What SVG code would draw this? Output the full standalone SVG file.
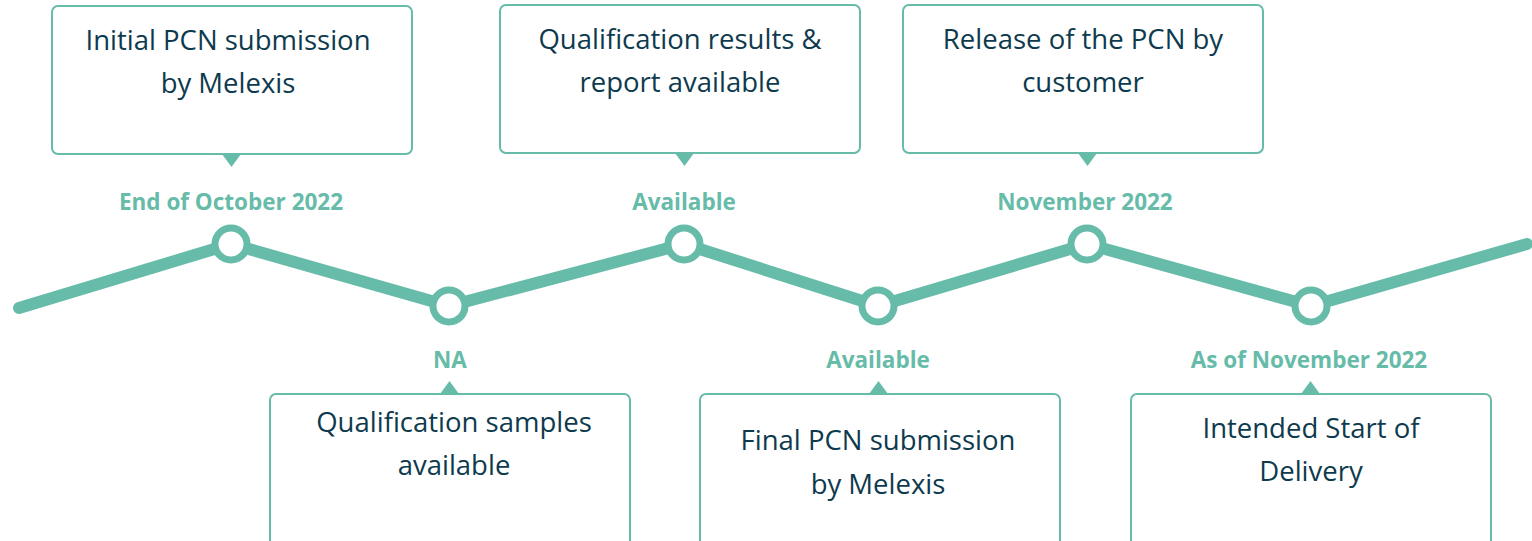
<svg xmlns="http://www.w3.org/2000/svg" width="1532" height="541" viewBox="0 0 1532 541">
<style>
.box{fill:#fff;stroke:#66bba9;stroke-width:2}
.ptr{fill:#66bba9}
.txt{font-family:"Open Sans","Liberation Sans",sans-serif;font-size:27.5px;fill:#0e3a4e;text-anchor:middle}
.lbl{font-family:"Open Sans","Liberation Sans",sans-serif;font-size:22.5px;font-weight:bold;fill:#66bba9;text-anchor:middle}
.dot{fill:#fff;stroke:#66bba9;stroke-width:7}
</style>
<rect width="1532" height="541" fill="#fff"/>
<g id="connectors">
<polyline points="19,308 231,244 449,306 684,244 878,306 1087,244 1311,306 1527,244" fill="none" stroke="#66bba9" stroke-width="12" stroke-linecap="round" stroke-linejoin="round"/>
</g>
<g id="m1">
<rect class="box" x="52" y="6" width="360" height="148" rx="6"/>
<polygon class="ptr" points="222,154 241,154 231.5,167"/>
<text class="txt" x="228" y="50">Initial PCN submission</text>
<text class="txt" x="228" y="93">by Melexis</text>
<text class="lbl" x="231" y="210">End of October 2022</text>
<circle class="dot" cx="231" cy="244" r="16"/>
</g>
<g id="m2">
<rect class="box" x="270" y="394" width="360" height="160" rx="6"/>
<polygon class="ptr" points="440,394 459,394 449.5,381"/>
<text class="txt" x="454" y="432">Qualification samples</text>
<text class="txt" x="454" y="475">available</text>
<text class="lbl" x="450" y="368">NA</text>
<circle class="dot" cx="449" cy="306" r="16"/>
</g>
<g id="m3">
<rect class="box" x="500" y="5" width="360" height="148" rx="6"/>
<polygon class="ptr" points="675,153 694,153 684.5,166"/>
<text class="txt" x="680" y="49">Qualification results &amp;</text>
<text class="txt" x="680" y="92">report available</text>
<text class="lbl" x="684" y="210">Available</text>
<circle class="dot" cx="684" cy="244" r="16"/>
</g>
<g id="m4">
<rect class="box" x="700" y="394" width="360" height="160" rx="6"/>
<polygon class="ptr" points="869,394 888,394 878.5,381"/>
<text class="txt" x="878" y="450">Final PCN submission</text>
<text class="txt" x="878" y="494">by Melexis</text>
<text class="lbl" x="878" y="368">Available</text>
<circle class="dot" cx="878" cy="306" r="16"/>
</g>
<g id="m5">
<rect class="box" x="903" y="5" width="360" height="148" rx="6"/>
<polygon class="ptr" points="1078,153 1097,153 1087.5,166"/>
<text class="txt" x="1083" y="49">Release of the PCN by</text>
<text class="txt" x="1083" y="92">customer</text>
<text class="lbl" x="1085" y="210">November 2022</text>
<circle class="dot" cx="1087" cy="244" r="16"/>
</g>
<g id="m6">
<rect class="box" x="1131" y="394" width="360" height="160" rx="6"/>
<polygon class="ptr" points="1301,394 1320,394 1310.5,381"/>
<text class="txt" x="1311" y="438">Intended Start of</text>
<text class="txt" x="1311" y="481">Delivery</text>
<text class="lbl" x="1309" y="368">As of November 2022</text>
<circle class="dot" cx="1311" cy="306" r="16"/>
</g>
</svg>
